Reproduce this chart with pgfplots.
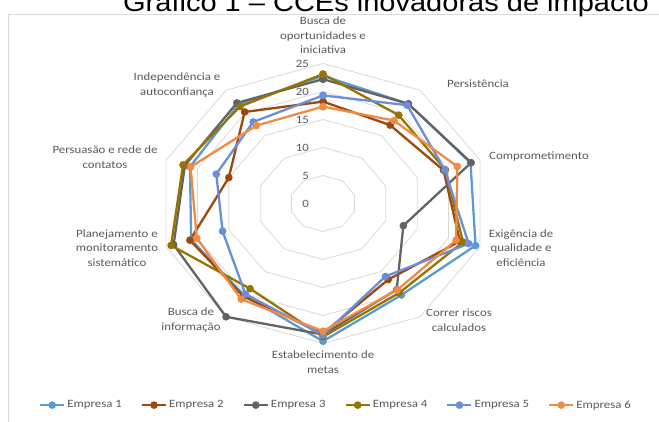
\documentclass[border=0pt]{standalone}
\usepackage{fontspec}
\setmainfont{Carlito}[FakeStretch=1.15]
\newfontfamily\titlefont{Liberation Sans}[FakeStretch=1.12]
\usepackage{pgfplots}
\usepackage{pgfplotstable}
\pgfplotsset{compat=1.18}
\definecolor{cA}{HTML}{5B9BD5}
\definecolor{cB}{HTML}{9E480E}
\definecolor{cC}{HTML}{636363}
\definecolor{cD}{HTML}{997300}
\definecolor{cE}{HTML}{6A8FD8}
\definecolor{cF}{HTML}{EF8B45}
\definecolor{gridgray}{HTML}{D9D9D9}
\definecolor{labelgray}{HTML}{595959}

% angle (deg) and value of each company per category, first row repeated to close
\pgfplotstableread{
a E1 E2 E3 E4 E5 E6
90 22.8 18.2 22.2 23.1 19.3 17.3
54 22.0 17.3 22.0 19.5 21.7 18.3
18 23.5 19.2 23.6 19.5 19.4 21.4
-18 24.3 21.8 12.8 22.3 23.2 21.2
-54 20.2 16.8 19.0 19.7 16.1 19.1
-90 24.6 23.2 23.4 23.8 23.5 22.8
-126 20.3 20.5 25.0 18.8 20.0 21.1
-162 21.0 21.2 23.8 24.2 16.0 20.1
-198 21.2 15.0 22.0 22.3 17.0 21.1
-234 21.8 20.2 22.2 21.4 18.0 17.2
-270 22.8 18.2 22.2 23.1 19.3 17.3
}\datatable

\begin{document}
\begin{tikzpicture}[x=1bp,y=1bp]
\useasboundingbox (0,0) rectangle (659,421);
\draw[gridgray, line width=0.8bp] (8,-5) -- (8,407) -- (665,407);
\node[font=\titlefont\fontsize{26}{30}\selectfont, anchor=base] at (386,409) {Gráfico 1 – CCEs inovadoras de impacto};
\begin{axis}[at={(323bp,217.5bp)}, anchor=origin, x=6.6bp, y=5.6bp,
  xmin=-26, xmax=26, ymin=-26, ymax=26, hide axis, clip=false,
  every axis plot/.append style={line width=2.3bp, mark=*, mark size=2.6bp, mark options={solid}},
  legend columns=6,
  legend style={at={(axis cs:1.97,-36.0)}, anchor=center, draw=none, fill=none,
    font=\fontsize{11.2}{13}\selectfont, text=labelgray,
    /tikz/every even column/.append style={column sep=17bp}},
  legend image code/.code={\draw[mark repeat=2,mark phase=2] plot coordinates {(0bp,0bp) (12bp,0bp) (24bp,0bp)};},
]
\pgfplotsinvokeforeach{5,10,15,20,25}{
  \addplot[gridgray, line width=0.8bp, mark=none, forget plot] table[x expr={#1*cos(\thisrow{a})}, y expr={#1*sin(\thisrow{a})}] {\datatable};
  \node[anchor=east, text=labelgray, font=\fontsize{11.2}{13}\selectfont] at (axis cs:-1.6,#1) {#1};
}
\node[anchor=east, text=labelgray, font=\fontsize{11.2}{13}\selectfont] at (axis cs:-1.6,0) {0};
\addplot[cA] table[x expr={\thisrow{E1}*cos(\thisrow{a})}, y expr={\thisrow{E1}*sin(\thisrow{a})}] {\datatable};
\addplot[cB] table[x expr={\thisrow{E2}*cos(\thisrow{a})}, y expr={\thisrow{E2}*sin(\thisrow{a})}] {\datatable};
\addplot[cC] table[x expr={\thisrow{E3}*cos(\thisrow{a})}, y expr={\thisrow{E3}*sin(\thisrow{a})}] {\datatable};
\addplot[cD] table[x expr={\thisrow{E4}*cos(\thisrow{a})}, y expr={\thisrow{E4}*sin(\thisrow{a})}] {\datatable};
\addplot[cE] table[x expr={\thisrow{E5}*cos(\thisrow{a})}, y expr={\thisrow{E5}*sin(\thisrow{a})}] {\datatable};
\addplot[cF] table[x expr={\thisrow{E6}*cos(\thisrow{a})}, y expr={\thisrow{E6}*sin(\thisrow{a})}] {\datatable};
\legend{Empresa 1, Empresa 2, Empresa 3, Empresa 4, Empresa 5, Empresa 6}
\end{axis}
\begin{scope}[every node/.style={align=center, text=labelgray, font=\fontsize{11.2}{14.5}\selectfont}]
\node at (323,385.5) {Busca de\\oportunidades e\\iniciativa};
\node at (478,337) {Persistência};
\node at (539,264) {Comprometimento};
\node at (521,173) {Exigência de\\qualidade e\\eficiência};
\node at (459,101) {Correr riscos\\calculados};
\node at (323,59) {Estabelecimento de\\metas};
\node at (191,101) {Busca de\\informação};
\node at (117,173) {Planejamento e\\monitoramento\\sistemático};
\node at (105,264) {Persuasão e rede de\\contatos};
\node at (177,336) {Independência e\\autoconfiança};
\end{scope}
\end{tikzpicture}
\end{document}
